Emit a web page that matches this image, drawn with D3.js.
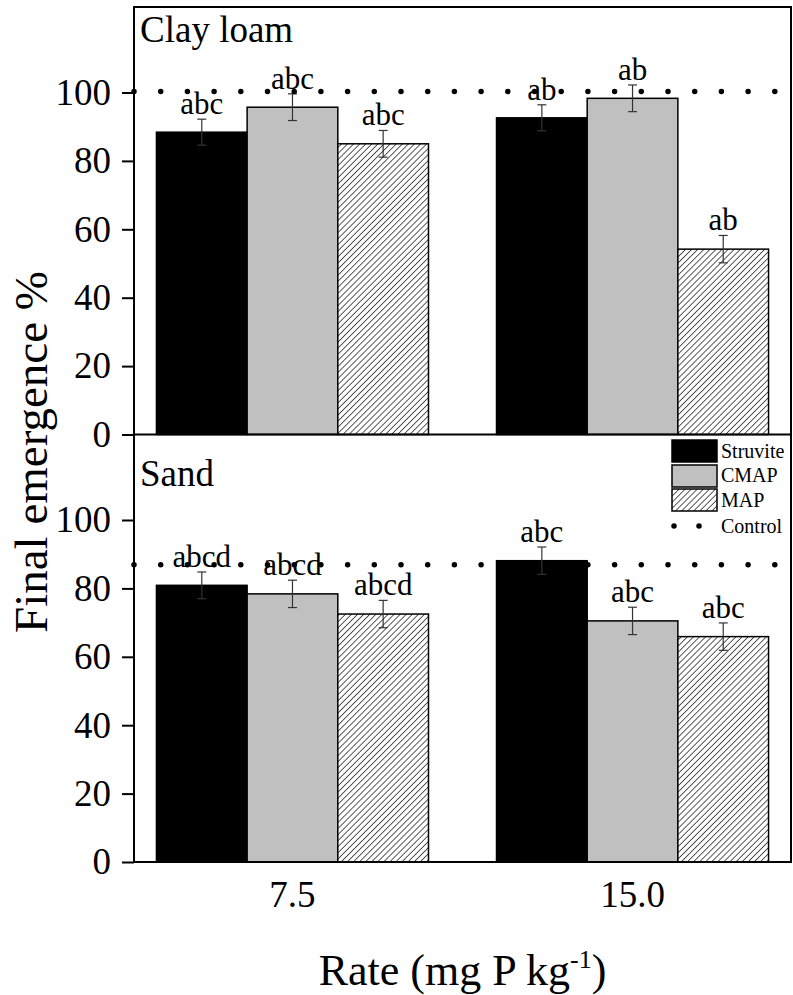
<!DOCTYPE html>
<html>
<head>
<meta charset="utf-8">
<script src="https://cdn.jsdelivr.net/npm/d3@7"></script>
<style>
  body { margin: 0; background: #fff; }
  svg text { font-family: "Liberation Serif", "Times New Roman", serif; fill: #000; }
</style>
</head>
<body>
<svg id="chart" width="793" height="995"></svg>
<script>
// data
var rates = ["7.5", "15.0"];
var treatments = ["Struvite", "CMAP", "MAP"];
var fills = ["#000000", "#c0c0c0", "url(#hatch)"];

// per rate: [Struvite, CMAP, MAP]
var clayMeans = [[88.4, 95.7, 85.0], [92.6, 98.3, 54.2]];
var clayErrors = [[3.8, 3.9, 3.9], [3.8, 3.9, 4.0]];
var clayLetters = [["abc", "abc", "abc"], ["ab", "ab", "ab"]];
var clayControl = 100.3;

var sandMeans = [[80.9, 78.4, 72.5], [88.1, 70.5, 65.9]];
var sandErrors = [[3.9, 4.0, 4.0], [4.0, 4.0, 4.0]];
var sandLetters = [["abcd", "abcd", "abcd"], ["abc", "abc", "abc"]];
var sandControl = 86.9;

var yTicks = [0, 20, 40, 60, 80, 100];

var plotL = 134, plotR = 791, plotT = 7, plotM = 434.5, plotB = 862;

var svg = d3.select("#chart");

var defs = svg.append("defs");
var pat = defs.append("pattern")
    .attr("id", "hatch")
    .attr("patternUnits", "userSpaceOnUse")
    .attr("width", 4.3)
    .attr("height", 4.3)
    .attr("patternTransform", "rotate(45)");
pat.append("rect").attr("width", 4.3).attr("height", 4.3).attr("fill", "#fff");
pat.append("line")
    .attr("x1", 0).attr("y1", 0).attr("x2", 0).attr("y2", 4.3)
    .attr("stroke", "#000").attr("stroke-width", 1.3);

var x0 = d3.scaleBand()
    .domain(rates)
    .range([plotL, plotR])
    .paddingInner(0.2)
    .paddingOuter(0.066);

var x1 = d3.scaleBand()
    .domain(treatments)
    .range([0, x0.bandwidth()]);

function drawPanel(y, means, errors, letters, control, label, labelY) {
    var g = svg.append("g");

    var groups = g.selectAll(".grp")
        .data(rates)
        .enter().append("g")
        .attr("class", "grp")
        .attr("transform", function(d) { return "translate(" + x0(d) + ",0)"; });

    groups.each(function(r, i) {
        var rows = treatments.map(function(t, j) {
            return { t: t, j: j, v: means[i][j], e: errors[i][j], l: letters[i][j] };
        });
        var gg = d3.select(this);

        gg.selectAll("rect")
            .data(rows)
            .enter().append("rect")
            .attr("x", function(d) { return x1(d.t); })
            .attr("y", function(d) { return y(d.v); })
            .attr("width", x1.bandwidth())
            .attr("height", function(d) { return y(0) - y(d.v); })
            .attr("fill", function(d) { return fills[d.j]; })
            .attr("stroke", "#000")
            .attr("stroke-width", 1.5);

        var eb = gg.selectAll(".err")
            .data(rows)
            .enter().append("g")
            .attr("class", "err")
            .attr("stroke", "#333")
            .attr("stroke-width", 1.2);
        eb.append("line")
            .attr("x1", function(d) { return x1(d.t) + x1.bandwidth() / 2; })
            .attr("x2", function(d) { return x1(d.t) + x1.bandwidth() / 2; })
            .attr("y1", function(d) { return y(d.v - d.e); })
            .attr("y2", function(d) { return y(d.v + d.e); });
        eb.append("line")
            .attr("x1", function(d) { return x1(d.t) + x1.bandwidth() / 2 - 4.5; })
            .attr("x2", function(d) { return x1(d.t) + x1.bandwidth() / 2 + 4.5; })
            .attr("y1", function(d) { return y(d.v + d.e); })
            .attr("y2", function(d) { return y(d.v + d.e); });
        eb.append("line")
            .attr("x1", function(d) { return x1(d.t) + x1.bandwidth() / 2 - 4.5; })
            .attr("x2", function(d) { return x1(d.t) + x1.bandwidth() / 2 + 4.5; })
            .attr("y1", function(d) { return y(d.v - d.e); })
            .attr("y2", function(d) { return y(d.v - d.e); });
    });

    // control line
    g.append("line")
        .attr("x1", plotL).attr("x2", plotR)
        .attr("y1", y(control)).attr("y2", y(control))
        .attr("stroke", "#000")
        .attr("stroke-width", 5.5)
        .attr("stroke-linecap", "round")
        .attr("stroke-dasharray", "0,26.7");

    // letters
    groups.each(function(r, i) {
        d3.select(this).selectAll(".lt")
            .data(treatments)
            .enter().append("text")
            .attr("class", "lt")
            .attr("x", function(t) { return x1(t) + x1.bandwidth() / 2; })
            .attr("y", function(t, j) { return y(means[i][j] + errors[i][j]) - 5; })
            .attr("text-anchor", "middle")
            .style("font-size", "31px")
            .text(function(t, j) { return letters[i][j]; });
    });

    var ax = g.append("g")
        .attr("transform", "translate(" + plotL + ",0)")
        .call(d3.axisLeft(y).tickValues(yTicks).tickSize(12).tickPadding(11));
    ax.select(".domain").remove();
    ax.selectAll(".tick line").attr("stroke", "#000").attr("stroke-width", 2);
    ax.selectAll(".tick text")
        .style("font-family", "Liberation Serif, serif")
        .style("font-size", "37px");

    g.append("text")
        .attr("x", plotL + 6)
        .attr("y", labelY)
        .style("font-size", "37px")
        .text(label);
}

var yTop = d3.scaleLinear().domain([0, 125]).range([plotM, plotT]);
var yBot = d3.scaleLinear().domain([0, 125]).range([plotB, plotM]);

drawPanel(yTop, clayMeans, clayErrors, clayLetters, clayControl, "Clay loam", 42);
drawPanel(yBot, sandMeans, sandErrors, sandLetters, sandControl, "Sand", 486);

// frame
svg.append("rect")
    .attr("x", plotL).attr("y", plotT)
    .attr("width", plotR - plotL).attr("height", plotB - plotT)
    .attr("fill", "none").attr("stroke", "#000").attr("stroke-width", 2);
svg.append("line")
    .attr("x1", plotL).attr("x2", plotR)
    .attr("y1", plotM).attr("y2", plotM)
    .attr("stroke", "#000").attr("stroke-width", 2);

// x tick labels
svg.selectAll(".xl")
    .data(rates)
    .enter().append("text")
    .attr("class", "xl")
    .attr("x", function(d) { return x0(d) + x0.bandwidth() / 2; })
    .attr("y", 907)
    .attr("text-anchor", "middle")
    .style("font-size", "37px")
    .text(function(d) { return d; });

// axis titles
var xt = svg.append("text")
    .attr("x", (plotL + plotR) / 2)
    .attr("y", 985)
    .attr("text-anchor", "middle")
    .style("font-size", "44px");
xt.append("tspan").text("Rate (mg P kg");
xt.append("tspan").attr("dy", -17).style("font-size", "26px").text("-1");
xt.append("tspan").attr("dy", 17).text(")");

svg.append("text")
    .attr("transform", "translate(47,452) rotate(-90)")
    .attr("text-anchor", "middle")
    .style("font-size", "47px")
    .text("Final emergence %");

// legend
var lg = svg.append("g");
var legY = [440, 465, 489];
lg.selectAll("rect")
    .data(treatments)
    .enter().append("rect")
    .attr("x", 672)
    .attr("y", function(d, i) { return legY[i]; })
    .attr("width", 45)
    .attr("height", 22)
    .attr("fill", function(d, i) { return fills[i]; })
    .attr("stroke", "#000")
    .attr("stroke-width", 1.5);
lg.selectAll("text")
    .data(treatments.concat(["Control"]))
    .enter().append("text")
    .attr("x", 721)
    .attr("y", function(d, i) { return [458, 482, 507, 533][i]; })
    .style("font-size", "20px")
    .text(function(d) { return d; });
lg.append("line")
    .attr("x1", 674).attr("x2", 700)
    .attr("y1", 526).attr("y2", 526)
    .attr("stroke", "#000")
    .attr("stroke-width", 5.5)
    .attr("stroke-linecap", "round")
    .attr("stroke-dasharray", "0,25");
</script>
</body>
</html>
